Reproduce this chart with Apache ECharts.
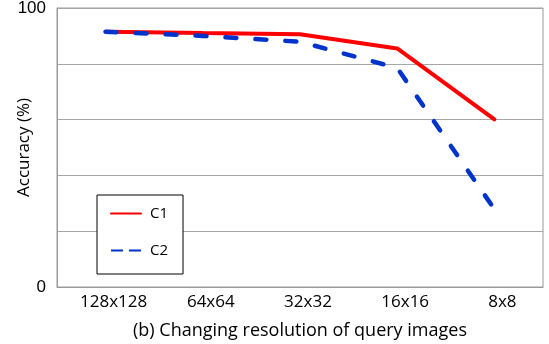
<!DOCTYPE html>
<html>
<head>
<meta charset="utf-8">
<script src="https://cdn.jsdelivr.net/npm/echarts@6/dist/echarts.min.js"></script>
<style>
  html, body { margin: 0; padding: 0; background: #fff; }
  #chart { width: 549px; height: 344px; }
</style>
</head>
<body>
<div id="chart"></div>
<script>
  // resolution categories
  var categories = ['128x128', '64x64', '32x32', '16x16', '8x8']
  // accuracy values (%)
  var c1Values = [91.5, 91.0, 90.6, 85.5, 60.1]
  var c2Values = [91.5, 90.0, 87.9, 78.5, 27.9]
  var yTickLabels = ['0', '100']

  var chart = echarts.init(document.getElementById('chart'))

  var option = {
    animation: false,
    backgroundColor: '#fff',
    grid: {
      left: 57,
      right: 6,
      top: 8,
      bottom: 57,
      outerBoundsMode: 'none',
      containLabel: false,
      show: true,
      borderColor: '#9a9a9a',
      borderWidth: 1
    },
    legend: {
      orient: 'vertical',
      left: 97,
      top: 195,
      padding: [11, 15, 16, 13],
      itemGap: 22,
      itemWidth: 30,
      itemHeight: 14,
      borderColor: '#000',
      borderWidth: 1,
      backgroundColor: '#fff',
      itemStyle: { opacity: 0 },
      textStyle: { fontFamily: 'Open Sans', fontSize: 15, color: '#000', padding: [0, 0, 0, 4] },
      data: [
        { name: 'C1' },
        { name: 'C2', lineStyle: { type: [12, 6], cap: 'butt' } }
      ]
    },
    xAxis: {
      type: 'category',
      data: categories,
      name: '(b) Changing resolution of query images',
      nameLocation: 'middle',
      nameGap: 35,
      nameTextStyle: { fontFamily: 'Open Sans', fontSize: 18, color: '#000' },
      axisLine: { lineStyle: { color: '#9a9a9a' } },
      axisTick: { show: false },
      axisLabel: {
        fontFamily: 'Open Sans', fontSize: 17, color: '#000', margin: 7,
        padding: [0, 0, 0, 16]
      }
    },
    yAxis: {
      type: 'value',
      min: 0,
      max: 100,
      interval: 20,
      name: 'Accuracy (%)',
      nameLocation: 'middle',
      nameGap: 24,
      nameMoveOverlap: false,
      nameTextStyle: { fontFamily: 'Open Sans', fontSize: 17, color: '#000' },
      axisLine: { show: true, lineStyle: { color: '#9a9a9a' } },
      axisTick: { show: false },
      splitLine: { lineStyle: { color: '#a6a6a6', width: 1 } },
      axisLabel: {
        fontFamily: 'Liberation Sans',
        fontSize: 17,
        color: '#000',
        margin: 11,
        formatter: function (v) {
          var s = String(v)
          return yTickLabels.indexOf(s) >= 0 ? s : ''
        }
      }
    },
    series: [
      {
        name: 'C1',
        type: 'line',
        data: c1Values,
        symbol: 'none',
        color: '#ff0000',
        lineStyle: { color: '#ff0000', width: 4, cap: 'round' }
      },
      {
        name: 'C2',
        type: 'line',
        data: c2Values,
        symbol: 'none',
        color: '#0033cc',
        lineStyle: { color: '#0033cc', width: 4.5, type: [11, 19], cap: 'round' }
      }
    ]
  }

  chart.setOption(option)
</script>
</body>
</html>
